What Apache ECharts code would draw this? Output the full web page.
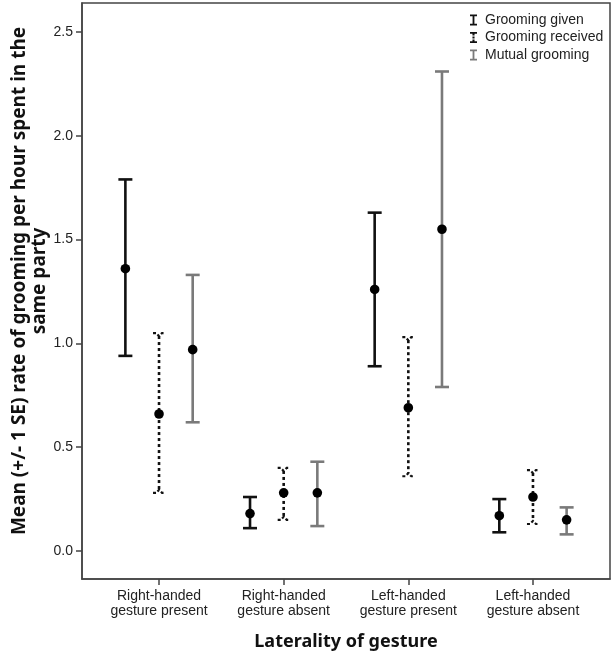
<!DOCTYPE html>
<html>
<head>
<meta charset="utf-8">
<script src="https://cdn.jsdelivr.net/npm/echarts@6/dist/echarts.min.js"></script>
<style>
html,body{margin:0;padding:0;background:#fff;}
#chart{width:614px;height:653px;}
</style>
</head>
<body>
<div id="chart"></div>
<script>
const categories = ['Right-handed\ngesture present', 'Right-handed\ngesture absent', 'Left-handed\ngesture present', 'Left-handed\ngesture absent'];
const seriesNames = ['Grooming given', 'Grooming received', 'Mutual grooming'];
const givenMean = [1.36, 0.18, 1.26, 0.17];
const givenLow = [0.94, 0.11, 0.89, 0.09];
const givenHigh = [1.79, 0.26, 1.63, 0.25];
const receivedMean = [0.66, 0.28, 0.69, 0.26];
const receivedLow = [0.28, 0.15, 0.36, 0.13];
const receivedHigh = [1.05, 0.40, 1.03, 0.39];
const mutualMean = [0.97, 0.28, 1.55, 0.15];
const mutualLow = [0.62, 0.12, 0.79, 0.08];
const mutualHigh = [1.33, 0.43, 2.31, 0.21];
const yTicks = [0, 0.5, 1.0, 1.5, 2.0, 2.5];
const xTicks = [0, 1, 2, 3];

const offsets = [-0.27, 0, 0.27];
const colors = ['#111111', '#111111', '#7a7a7a'];
const means = [givenMean, receivedMean, mutualMean];
const lows = [givenLow, receivedLow, mutualLow];
const highs = [givenHigh, receivedHigh, mutualHigh];

function makeRender(kind, color) {
  return function (params, api) {
    const x = api.value(0), lo = api.value(1), hi = api.value(2), m = api.value(3);
    const pLo = api.coord([x, lo]);
    const pHi = api.coord([x, hi]);
    const pM = api.coord([x, m]);
    const cx = pLo[0];
    const children = [];
    const lw = 2.6;
    if (kind === 'dashed') {
      children.push({type: 'line', shape: {x1: cx, y1: pHi[1] + 3, x2: cx, y2: pLo[1] - 3},
        style: {stroke: color, lineWidth: lw, lineDash: [3, 3]}});
      children.push({type: 'polyline', shape: {points: [[cx - 6, pHi[1]], [cx - 3, pHi[1]], [cx, pHi[1] + 3], [cx + 3, pHi[1]], [cx + 6, pHi[1]]]},
        style: {stroke: color, lineWidth: 2.2, lineDash: [3, 2], fill: null}});
      children.push({type: 'polyline', shape: {points: [[cx - 6, pLo[1]], [cx - 3, pLo[1]], [cx, pLo[1] - 3], [cx + 3, pLo[1]], [cx + 6, pLo[1]]]},
        style: {stroke: color, lineWidth: 2.2, lineDash: [3, 2], fill: null}});
    } else {
      children.push({type: 'line', shape: {x1: cx, y1: pHi[1], x2: cx, y2: pLo[1]},
        style: {stroke: color, lineWidth: lw}});
      children.push({type: 'line', shape: {x1: cx - 7, y1: pHi[1], x2: cx + 7, y2: pHi[1]},
        style: {stroke: color, lineWidth: 2.6}});
      children.push({type: 'line', shape: {x1: cx - 7, y1: pLo[1], x2: cx + 7, y2: pLo[1]},
        style: {stroke: color, lineWidth: 2.6}});
    }
    children.push({type: 'circle', shape: {cx: pM[0], cy: pM[1], r: 4.8}, style: {fill: '#000'}});
    return {type: 'group', children: children};
  };
}

const kinds = ['solid', 'dashed', 'solid'];
const series = seriesNames.map(function (name, s) {
  return {
    name: name,
    type: 'custom',
    itemStyle: {color: colors[s]},
    renderItem: makeRender(kinds[s], colors[s]),
    encode: {x: 0, y: [1, 2, 3]},
    data: categories.map(function (c, i) {
      return [i + offsets[s], lows[s][i], highs[s][i], means[s][i]];
    })
  };
});

const iconSolid = 'path://M0,0H10V2.5H6.3V13.5H10V16H0V13.5H3.7V2.5H0Z';
const iconDashed = 'path://M0,0H10V2.5H6.5V5H3.5V2.5H0Z M3.5,6.5H6.5V9.5H3.5Z M3.5,11H6.5V13.5H10V16H0V13.5H3.5Z';

const chart = echarts.init(document.getElementById('chart'), null, {renderer: 'canvas'});
chart.setOption({
  animation: false,
  backgroundColor: '#fff',
  textStyle: {fontFamily: 'Liberation Sans, Arial, sans-serif'},
  grid: {left: 82, right: 4, top: 3, bottom: 74, containLabel: false, outerBoundsMode: 'none', show: true, borderColor: '#444', borderWidth: 1.5, backgroundColor: 'transparent'},
  legend: {
    orient: 'vertical',
    left: 465,
    top: 8,
    itemWidth: 7,
    itemHeight: 12,
    itemGap: 3.5,
    textStyle: {fontSize: 14, color: '#222', fontFamily: 'Liberation Sans, Arial, sans-serif', padding: [0, 0, 0, 3]},
    data: [
      {name: seriesNames[0], icon: iconSolid},
      {name: seriesNames[1], icon: iconDashed},
      {name: seriesNames[2], icon: iconSolid}
    ]
  },
  xAxis: {
    type: 'value',
    min: -0.618,
    max: 3.618,
    name: 'Laterality of gesture',
    nameLocation: 'middle',
    nameGap: 54,
    nameMoveOverlap: false,
    nameTextStyle: {fontSize: 18, fontWeight: 'bold', color: '#111', fontFamily: 'Noto Sans, Open Sans, sans-serif'},
    axisLine: {show: true, onZero: false, lineStyle: {color: '#444', width: 1.5}},
    axisTick: {show: true, customValues: xTicks, length: 6, lineStyle: {color: '#444', width: 1.5}},
    axisLabel: {
      customValues: xTicks,
      margin: 10,
      fontSize: 14,
      lineHeight: 15,
      color: '#222',
      formatter: function (v) { return categories[Math.round(v)]; }
    },
    splitLine: {show: false}
  },
  yAxis: {
    type: 'value',
    min: -0.135,
    max: 2.64,
    name: 'Mean (+/- 1 SE) rate of grooming per hour spent in the\nsame party',
    nameLocation: 'middle',
    nameGap: 32,
    nameMoveOverlap: false,
    nameTextStyle: {fontSize: 19, fontWeight: 'bold', color: '#111', lineHeight: 20, padding: [0, 0, 0, 20], fontFamily: 'Noto Sans, Open Sans, sans-serif'},
    axisLine: {show: true, onZero: false, lineStyle: {color: '#444', width: 1.5}},
    axisTick: {show: true, customValues: yTicks, length: 6, lineStyle: {color: '#444', width: 1.5}},
    axisLabel: {
      customValues: yTicks,
      margin: 9,
      fontSize: 14,
      color: '#222',
      formatter: function (v) { return v.toFixed(1); }
    },
    splitLine: {show: false}
  },
  series: series
});
</script>
</body>
</html>
